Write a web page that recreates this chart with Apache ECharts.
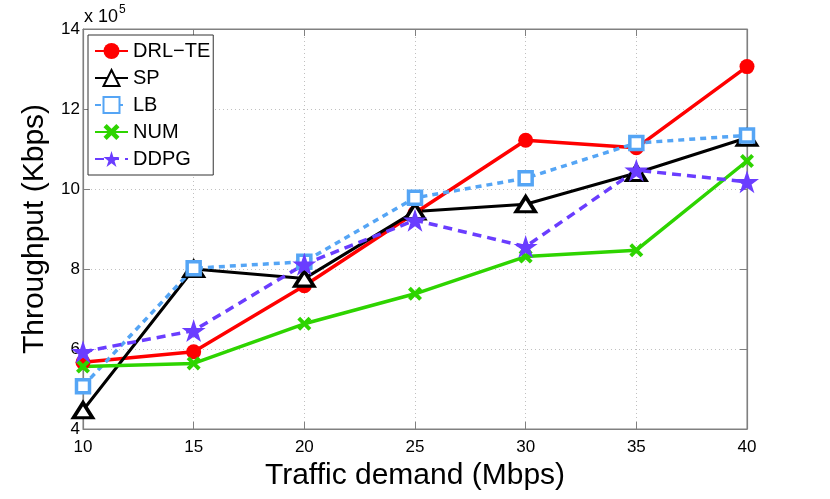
<!DOCTYPE html>
<html>
<head>
<meta charset="utf-8">
<script src="https://cdn.jsdelivr.net/npm/echarts@6/dist/echarts.min.js"></script>
<style>html,body{margin:0;padding:0;background:#fff}#c{width:830px;height:499px}</style>
</head>
<body>
<div id="c"></div>
<script>
// ---- Data (throughput in units of 1e5 Kbps) ----
var trafficDemand = [10, 15, 20, 25, 30, 35, 40];
var drlte = [5.67, 5.93, 7.58, 9.40, 11.22, 11.03, 13.06];
var sp    = [4.47, 8.00, 7.76, 9.44, 9.62, 10.40, 11.28];
var lb    = [5.07, 8.02, 8.18, 9.78, 10.27, 11.15, 11.34];
var num   = [5.56, 5.64, 6.63, 7.38, 8.31, 8.47, 10.70];
var ddpg  = [5.93, 6.46, 8.12, 9.22, 8.56, 10.47, 10.18];
var seriesNames = ['DRL\u2212TE', 'SP', 'LB', 'NUM', 'DDPG'];
var xTicks = [10, 15, 20, 25, 30, 35, 40];
var yTicks = [4, 6, 8, 10, 12, 14];

function pairs(ys){ return trafficDemand.map(function(x,i){ return [x, ys[i]]; }); }

var STAR = 'path://M100,0 L122.45,69.1 L195.1,69.1 L136.3,111.8 L158.8,180.9 L100,138.2 L41.2,180.9 L63.7,111.8 L4.9,69.1 L77.55,69.1 Z';
var XMARK = 'path://M0,20 L20,0 L50,30 L80,0 L100,20 L70,50 L100,80 L80,100 L50,70 L20,100 L0,80 L30,50 Z';

var FONT = '"Liberation Sans", Arial, Helvetica, sans-serif';
var chart = echarts.init(document.getElementById('c'), null, {renderer:'canvas'});

var axisGray = '#808080';
var gridLine = {show:true, lineStyle:{color:'#c0c0c0', type:[1,3], width:1}};

var option = {
  animation:false,
  backgroundColor:'#ffffff',
  textStyle:{fontFamily:FONT},
  grid:{left:83, right:83, top:29, bottom:70, show:true, borderColor:axisGray, borderWidth:1},
  legend:{
    orient:'vertical', left:88, top:35,
    data:seriesNames,
    backgroundColor:'#ffffff', borderColor:'#333333', borderWidth:1,
    padding:[6,3,6,6], itemWidth:33, itemHeight:20, itemGap:7,
    textStyle:{fontFamily:FONT, fontSize:20, color:'#000'}
  },
  xAxis:[{
    type:'value', min:10, max:40, interval:5,
    name:'Traffic demand (Mbps)', nameLocation:'middle', nameGap:24,
    nameTextStyle:{fontFamily:FONT, fontSize:30, color:'#000'},
    axisLine:{show:true, onZero:false, lineStyle:{color:axisGray, width:1.2}},
    axisTick:{show:true, inside:true, length:7, lineStyle:{color:axisGray}},
    axisLabel:{fontFamily:FONT, fontSize:17, color:'#000', margin:10,
      formatter:function(v){ return xTicks.indexOf(v)>=0 ? String(v) : ''; }},
    splitLine:gridLine
  },{
    type:'value', position:'top', min:10, max:40, interval:5,
    axisLine:{show:true, lineStyle:{color:axisGray, width:1.2}},
    axisTick:{show:true, inside:true, length:7, lineStyle:{color:axisGray}},
    axisLabel:{show:false}, splitLine:{show:false}
  }],
  yAxis:[{
    type:'value', min:4, max:14, interval:2,
    name:'Throughput (Kbps)', nameLocation:'middle', nameGap:29,
    nameTextStyle:{fontFamily:FONT, fontSize:30, color:'#000'},
    axisLine:{show:true, onZero:false, lineStyle:{color:axisGray, width:1.2}},
    axisTick:{show:true, inside:true, length:7, lineStyle:{color:axisGray}},
    axisLabel:{fontFamily:FONT, fontSize:17, color:'#000', margin:3,
      formatter:function(v){ return yTicks.indexOf(v)>=0 ? String(v) : ''; }},
    splitLine:gridLine
  },{
    type:'value', position:'right', min:4, max:14, interval:2,
    axisLine:{show:true, lineStyle:{color:axisGray, width:1.2}},
    axisTick:{show:true, inside:true, length:7, lineStyle:{color:axisGray}},
    axisLabel:{show:false}, splitLine:{show:false}
  }],
  graphic:[{
    type:'text', left:84, top:4,
    style:{
      text:'{a|x 10}{b|5}',
      rich:{
        a:{fontFamily:FONT, fontSize:18, fill:'#000', verticalAlign:'bottom'},
        b:{fontFamily:FONT, fontSize:12, fill:'#000', verticalAlign:'top', padding:[0,0,10,1]}
      }
    }
  }],
  series:[
    {name:seriesNames[0], type:'line', data:pairs(drlte),
      lineStyle:{color:'#ff0000', width:3.5},
      symbol:'circle', symbolSize:15, itemStyle:{color:'#ff0000', borderWidth:0}},
    {name:seriesNames[1], type:'line', data:pairs(sp),
      lineStyle:{color:'#000000', width:3},
      symbol:'triangle', symbolSize:[19,15], itemStyle:{color:'#ffffff', borderColor:'#000000', borderWidth:3.5}},
    {name:seriesNames[2], type:'line', data:pairs(lb),
      lineStyle:{color:'#55a5f5', width:3.5, type:[6,5]},
      symbol:'rect', symbolSize:13, itemStyle:{color:'#ffffff', borderColor:'#55a5f5', borderWidth:3.5}},
    {name:seriesNames[3], type:'line', data:pairs(num),
      lineStyle:{color:'#2ed400', width:3.5},
      symbol:XMARK, symbolSize:14, itemStyle:{color:'#2ed400', borderWidth:0}},
    {name:seriesNames[4], type:'line', data:pairs(ddpg),
      lineStyle:{color:'#6a3dff', width:3.5, type:[9,6]},
      symbol:STAR, symbolSize:[24,23], itemStyle:{color:'#6a3dff', borderWidth:0}}
  ]
};
chart.setOption(option);
</script>
</body>
</html>
